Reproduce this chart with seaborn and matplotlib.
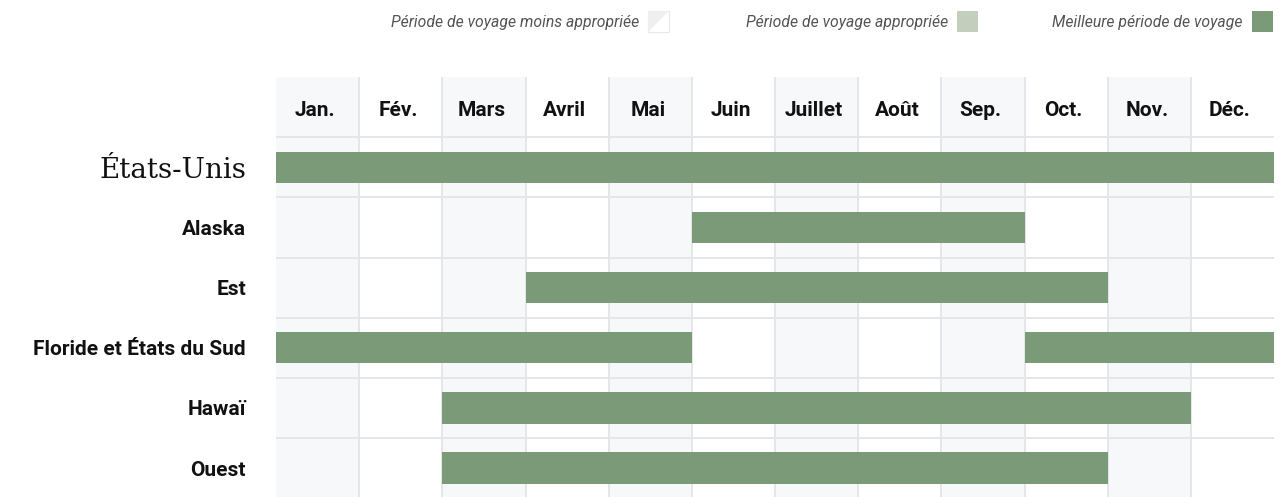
import matplotlib
matplotlib.use("Agg")
import matplotlib.pyplot as plt
from matplotlib.patches import Rectangle, Polygon
import seaborn as sns
import pandas as pd

# ---- data ----
months = ["Jan.", "Fév.", "Mars", "Avril", "Mai", "Juin", "Juillet", "Août",
          "Sep.", "Oct.", "Nov.", "Déc."]
regions = ["États-Unis", "Alaska", "Est", "Floride et États du Sud", "Hawaï", "Ouest"]
seg_region = ["États-Unis", "Alaska", "Est", "Floride et États du Sud",
              "Floride et États du Sud", "Hawaï", "Ouest"]
seg_start_month = [1, 6, 4, 1, 10, 3, 3]
seg_end_month = [12, 9, 10, 5, 12, 11, 10]
legend_labels = ["Période de voyage moins appropriée", "Période de voyage appropriée",
                 "Meilleure période de voyage"]

BAR = "#7a9a78"
LIGHT_GREEN = "#c3cebd"
SHADE = "#f7f8fa"
GRID = "#e4e6e9"
TEXT = "#111111"

sns.set_theme(style="white")
plt.rcParams["font.family"] = ["Roboto", "DejaVu Sans"]

W, H = 1284, 497
fig = plt.figure(figsize=(W / 100, H / 100), dpi=100)
ax_left, ax_right, ax_top = 276 / W, 1274 / W, 1 - 77 / H
ax = fig.add_axes([ax_left, 0, ax_right - ax_left, ax_top])

n_m = len(months)
row_h = (497 - 77) / 6.98
ax.set_xlim(0, n_m)
ax.set_ylim((497 - 77) / row_h, 0)

# alternating column shading
for i in range(0, n_m, 2):
    ax.axvspan(i, i + 1, color=SHADE, zorder=0, lw=0)
# vertical grid lines
for i in range(1, n_m):
    ax.axvline(i, color=GRID, lw=1.4, zorder=1)
# horizontal separators
for j in range(1, len(regions) + 1):
    ax.axhline(j, color=GRID, lw=1.4, zorder=1)

# month headers
for i, m in enumerate(months):
    ax.text(i + 0.47, 0.56, m, ha="center", va="center", fontsize=15,
            fontweight="bold", color=TEXT, zorder=3)

# bars
df = pd.DataFrame({"region": seg_region, "start": seg_start_month, "end": seg_end_month})
df["y"] = df["region"].map({r: k + 1.5 for k, r in enumerate(regions)})
ax.barh(df["y"], df["end"] - df["start"] + 1, left=df["start"] - 1,
        height=0.52, color=BAR, zorder=2, linewidth=0)

# row labels
ax.set_yticks([k + 1.5 for k in range(len(regions))])
ax.set_yticklabels(regions)
ax.tick_params(axis="y", length=0, pad=21.6)
ax.set_xticks([])
for k, lab in enumerate(ax.get_yticklabels()):
    lab.set_color(TEXT)
    if k == 0:
        lab.set_family(["DejaVu Serif"])
        lab.set_fontsize(20)
    else:
        lab.set_fontweight("bold")
        lab.set_fontsize(15)
for s in ax.spines.values():
    s.set_visible(False)

# legend (figure coordinates in pixels)
def fx(px):
    return px / W

def fy(py):
    return 1 - py / H

sq = 21
icons_x = [648, 957, 1252]
icon_top = 11
for k, (lab, x0) in enumerate(zip(legend_labels, icons_x)):
    fig.text(fx(x0 - 9), fy(icon_top + sq / 2 + 1), lab, ha="right", va="center",
             fontsize=11.3, style="italic", color="#555555")
    if k == 0:
        fig.patches.append(Rectangle((fx(x0), fy(icon_top + sq)), fx(sq), sq / H,
                                     transform=fig.transFigure, facecolor="white",
                                     edgecolor="#e8e8e8", lw=0.8))
        fig.patches.append(Polygon([(fx(x0), fy(icon_top + sq)), (fx(x0), fy(icon_top)),
                                    (fx(x0 + sq), fy(icon_top))],
                                   closed=True, transform=fig.transFigure,
                                   facecolor="#efefef", edgecolor="none"))
    else:
        col = LIGHT_GREEN if k == 1 else BAR
        fig.patches.append(Rectangle((fx(x0), fy(icon_top + sq)), fx(sq), sq / H,
                                     transform=fig.transFigure, facecolor=col,
                                     edgecolor="none"))

fig.savefig("out.png", dpi=100, facecolor="white")
